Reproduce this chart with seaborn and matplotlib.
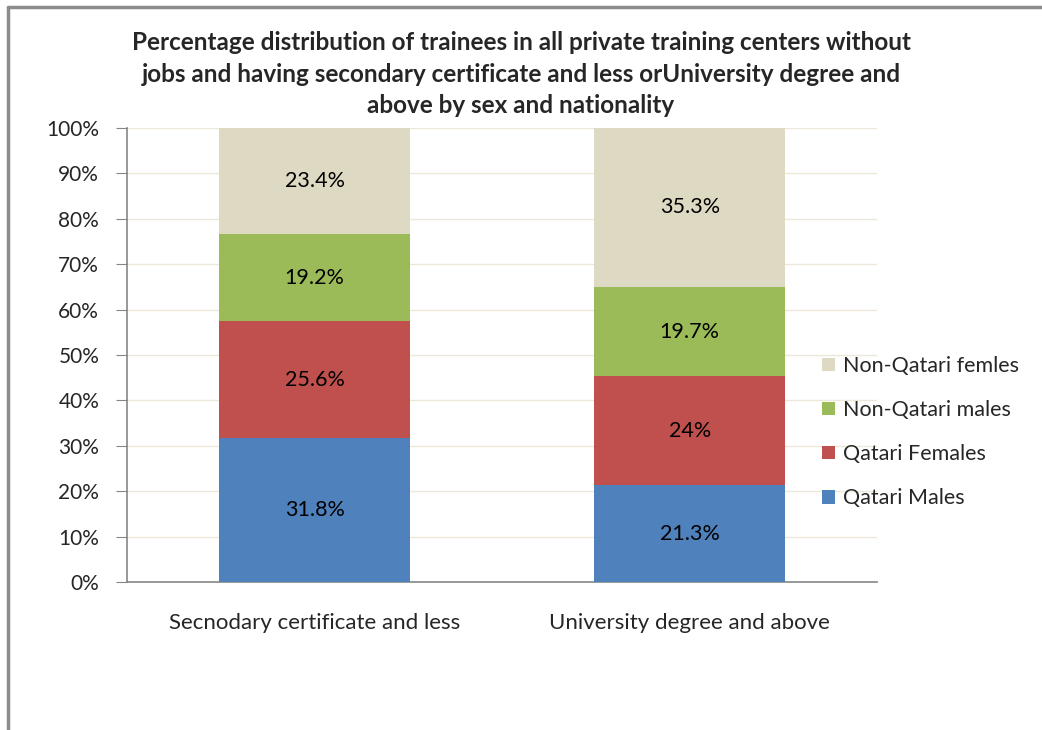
import numpy as np
import matplotlib
matplotlib.use("Agg")
import matplotlib.pyplot as plt
import seaborn as sns
from matplotlib.lines import Line2D

categories = ["Secnodary certificate and less", "University degree and above"]
series_names = ["Qatari Males", "Qatari Females", "Non-Qatari males", "Non-Qatari femles"]
qatari_males = [31.8, 21.3]
qatari_females = [25.6, 24.0]
non_qatari_males = [19.2, 19.7]
non_qatari_females = [23.4, 35.3]
label_text = [["31.8%", "21.3%"], ["25.6%", "24%"], ["19.2%", "19.7%"], ["23.4%", "35.3%"]]
colors = ["#4F81BD", "#C0504D", "#9BBB59", "#DDD9C3"]

title = ("Percentage distribution of trainees in all private training centers without\n"
         "jobs and having secondary certificate and less orUniversity degree and\n"
         "above by sex and nationality")

sns.set_style("white")
plt.rcParams['font.family'] = ['Lato', 'DejaVu Sans']

fig = plt.figure(figsize=(10.42, 7.3), dpi=100)
ax = fig.add_axes([0.1219, 0.2027, 0.72, 0.622])

values = [qatari_males, qatari_females, non_qatari_males, non_qatari_females]
bottom = np.zeros(len(categories))
for name, vals, col, labs in zip(series_names, values, colors, label_text):
    vals = np.array(vals)
    # keep the stack within 100%
    shown = np.minimum(vals, 100 - bottom)
    sns.barplot(x=categories, y=shown, bottom=bottom, color=col, width=0.51,
                label=name, ax=ax, zorder=3, linewidth=0, saturation=1)
    for i, (v, b) in enumerate(zip(shown, bottom)):
        ax.text(i, b + v / 2, labs[i], ha="center", va="center", fontsize=15.5, color="black", zorder=4)
    bottom = bottom + shown

ax.set_xlim(-0.5, 1.5)
ax.set_ylim(0, 100)
ax.set_yticks(np.arange(0, 101, 10))
ax.set_yticklabels([f"{t}%" for t in range(0, 101, 10)], fontsize=15)
ax.yaxis.grid(True, color="#ECE9D8", linewidth=1, zorder=0)
ax.set_axisbelow(True)

ax.set_xticks([0, 1])
ax.set_xticklabels(categories, fontsize=16)
ax.set_xticks([-0.5, 0.5, 1.5], minor=True)
ax.tick_params(axis="x", which="major", length=0, pad=22)
ax.tick_params(axis="x", which="minor", length=8, color="#868686", direction="out")
ax.tick_params(axis="y", length=8, color="#868686", direction="out", left=True, pad=12)

for s in ["top", "right"]:
    ax.spines[s].set_visible(False)
for s in ["left", "bottom"]:
    ax.spines[s].set_color("#868686")
    ax.spines[s].set_linewidth(1.2)

handles, labels = ax.get_legend_handles_labels()
leg = ax.legend(handles[::-1], labels[::-1], loc="center left", bbox_to_anchor=(0.9, 0.33),
                frameon=False, fontsize=15.5, handlelength=0.6, handleheight=0.6,
                labelspacing=1.12, handletextpad=0.4)

fig.suptitle(title, fontsize=17.5, fontweight="bold", y=0.957, linespacing=1.45)

# outer chart border (left and top edges)
fig.add_artist(Line2D([0.0075, 0.0075], [0.0, 0.99], transform=fig.transFigure, color="#8C8C8C", linewidth=2.5))
fig.add_artist(Line2D([0.0075, 1.0], [0.99, 0.99], transform=fig.transFigure, color="#8C8C8C", linewidth=2.5))

fig.savefig("out.png", dpi=100)
